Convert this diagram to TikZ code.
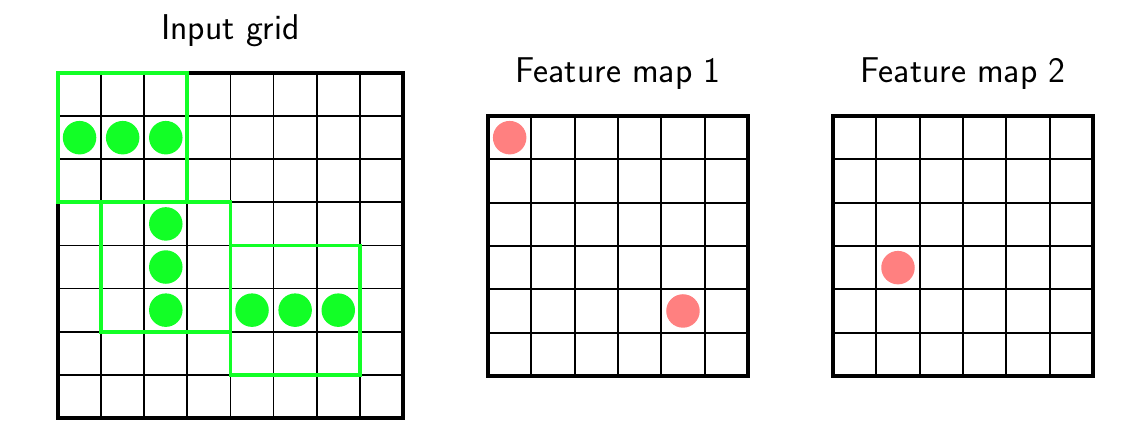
\documentclass[tikz,border=0pt]{standalone}
\usepackage{fontspec}
\definecolor{kgreen}{RGB}{18,255,38}
\definecolor{kred}{RGB}{255,128,128}
\begin{document}
\begin{tikzpicture}[x=0.02cm,y=-0.02cm,
  gridline/.style={line width=1pt},
  border/.style={line width=2.3pt},
  win/.style={draw=kgreen,line width=2.2pt},
  gdot/.style={circle,fill=kgreen,inner sep=0pt,minimum size=0.67cm},
  rdot/.style={circle,fill=kred,inner sep=0pt,minimum size=0.67cm},
  title/.style={font=\fontsize{20.4}{24}\selectfont\sffamily,anchor=base,inner sep=0pt}]
\useasboundingbox (0,0) rectangle (1135,436);
% titles
\node[title] (t0) at (230.5,39.3) {Input grid};
\node[title] (t1) at (618,82.7) {Feature map 1};
\node[title] (t2) at (963,82.7) {Feature map 2};
% input grid
\begin{scope}[shift={(58,73)},x=0.8625cm,y=-0.8625cm]
  \foreach \i in {1,...,7}{
    \draw[gridline] (\i,0) -- (\i,8);
    \draw[gridline] (0,\i) -- (8,\i);
  }
  \draw[border] (0,0) rectangle (8,8);
  \draw[win] (0,0) rectangle (3,3);
  \draw[win] (1,3) rectangle (4,6);
  \draw[win] (4,4) rectangle (7,7);
  \foreach \p/\q [count=\k] in {0.5/1.5,1.5/1.5,2.5/1.5,2.5/3.5,2.5/4.5,2.5/5.5,4.5/5.5,5.5/5.5,6.5/5.5}
    \node[gdot] (g\k) at (\p,\q) {};
\end{scope}
% feature map 1
\begin{scope}[shift={(488,116)},x=0.8667cm,y=-0.8667cm]
  \foreach \i in {1,...,5}{
    \draw[gridline] (\i,0) -- (\i,6);
    \draw[gridline] (0,\i) -- (6,\i);
  }
  \draw[border] (0,0) rectangle (6,6);
  \node[rdot] (r1) at (0.5,0.5) {};
  \node[rdot] (r2) at (4.5,4.5) {};
\end{scope}
% feature map 2
\begin{scope}[shift={(833,116)},x=0.8667cm,y=-0.8667cm]
  \foreach \i in {1,...,5}{
    \draw[gridline] (\i,0) -- (\i,6);
    \draw[gridline] (0,\i) -- (6,\i);
  }
  \draw[border] (0,0) rectangle (6,6);
  \node[rdot] (r3) at (1.5,3.5) {};
\end{scope}
\end{tikzpicture}
\end{document}
